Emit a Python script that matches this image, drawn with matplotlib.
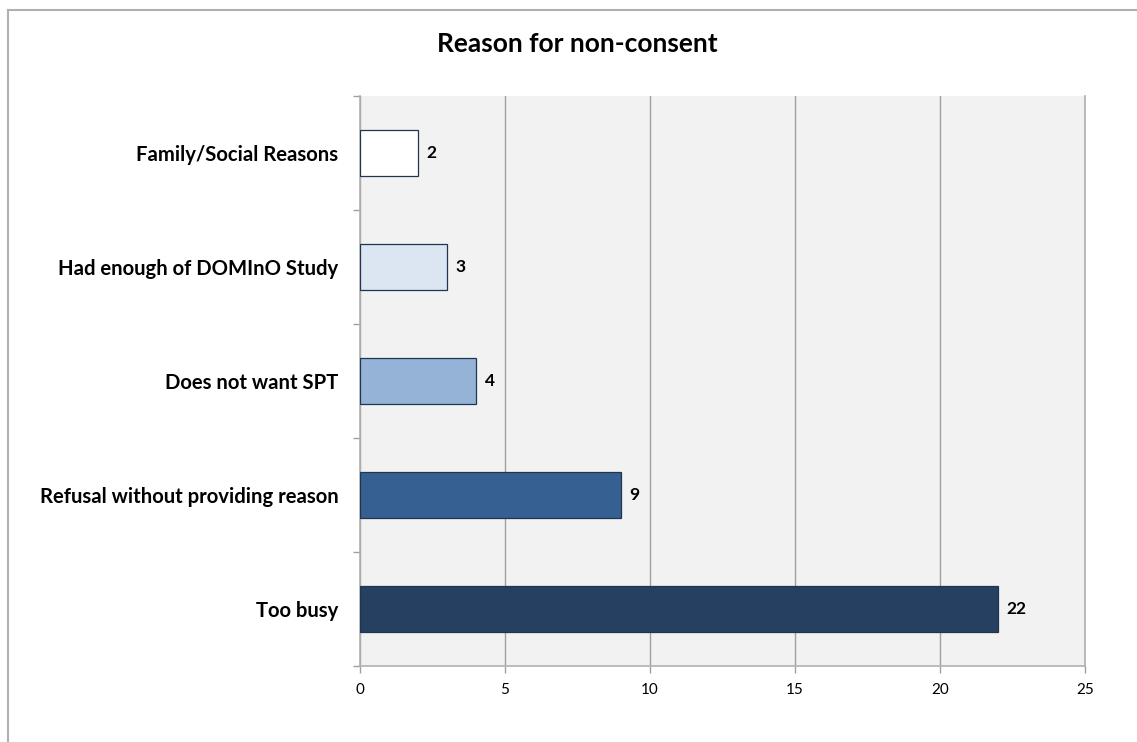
import matplotlib
matplotlib.use('Agg')
import matplotlib.pyplot as plt
from matplotlib.lines import Line2D

plt.rcParams['font.family'] = ['Lato', 'DejaVu Sans']

reasons = ["Too busy", "Refusal without providing reason", "Does not want SPT",
           "Had enough of DOMInO Study", "Family/Social Reasons"]
counts = [22, 9, 4, 3, 2]
colors = ["#254061", "#376092", "#95b3d7", "#dce6f2", "#ffffff"]
xticks = [0, 5, 10, 15, 20, 25]

W, H = 1137, 742
fig = plt.figure(figsize=(W / 100, H / 100), dpi=100)
fig.patch.set_facecolor('white')

# frame around the chart (left and top edges only)
fig.add_artist(Line2D([8 / W, 8 / W], [0, 1 - 10 / H], color='#b0b0b0', lw=1.5))
fig.add_artist(Line2D([8 / W, 1], [1 - 10 / H, 1 - 10 / H], color='#b0b0b0', lw=1.5))

ax = fig.add_axes([360 / W, 1 - 666 / H, (1085 - 360) / W, (666 - 96) / H])
ax.set_facecolor('#f2f2f2')

ypos = list(range(len(reasons)))
ax.barh(ypos, counts, height=0.4, color=colors, edgecolor='#1f3550', linewidth=0.9, zorder=3)
for y, v in zip(ypos, counts):
    ax.text(v + 0.3, y, str(v), va='center', ha='left', fontsize=12.5, fontweight='bold', zorder=4)

ax.set_xlim(0, 25)
ax.set_ylim(-0.5, len(reasons) - 0.5)
ax.set_xticks(xticks)
ax.set_xticklabels([str(t) for t in xticks], fontsize=11)
ax.set_yticks(ypos)
ax.set_yticklabels(reasons, fontsize=14.6, fontweight='bold')
ax.set_yticks([y - 0.5 for y in range(len(reasons) + 1)], minor=True)

ax.tick_params(axis='y', which='major', length=0, pad=15.5)
ax.tick_params(axis='y', which='minor', length=5, color='#a0a0a0', width=1)
ax.tick_params(axis='x', length=5, color='#a0a0a0', width=1, pad=7, direction='out')

ax.grid(axis='x', color='#a0a0a0', linewidth=1, zorder=1)
for side in ['left', 'bottom', 'right']:
    ax.spines[side].set_color('#b0b0b0')
    ax.spines[side].set_linewidth(1.2)
ax.spines['top'].set_visible(False)

fig.text(577 / W, 1 - 44 / H, "Reason for non-consent",
         ha='center', va='center', fontsize=19, fontweight='bold')

fig.savefig('out.png', dpi=100)
